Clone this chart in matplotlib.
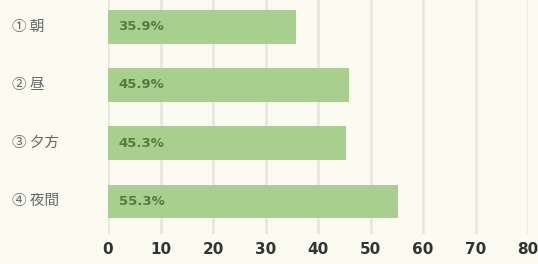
import matplotlib.pyplot as plt
from matplotlib.transforms import blended_transform_factory

cats = ['① 朝', '② 昼', '③ 夕方', '④ 夜間']
vals = [35.9, 45.9, 45.3, 55.3]
labels = ['35.9%', '45.9%', '45.3%', '55.3%']
xticks = [0, 10, 20, 30, 40, 50, 60, 70, 80]

plt.rcParams['font.family'] = ['Noto Sans CJK JP', 'DejaVu Sans']

bg = '#fbfbf2'
fig = plt.figure(figsize=(5.38, 2.64), dpi=100, facecolor=bg)
ax = fig.add_axes([108/538, 30/264, 420/538, 234/264], facecolor=bg)

ypos = list(range(len(cats)))
ax.barh(ypos, vals, height=0.58, color='#a9cf8f', zorder=2)
ax.set_xlim(0, 80)
ax.set_ylim(3.56, -0.46)
ax.set_xticks(xticks)
ax.set_xticklabels([str(t) for t in xticks], fontsize=11, fontweight='bold', color='#333333',
                   family='DejaVu Sans')
ax.tick_params(axis='x', length=0, pad=6)
ax.set_yticks([])
ax.grid(axis='x', color='#e6e6dc', linewidth=1.8, zorder=0)
for s in ax.spines.values():
    s.set_visible(False)
ax.axvline(0, color='#ffffff', linewidth=3, zorder=1)

for y, lab in zip(ypos, labels):
    ax.text(2.0, y, lab, va='center', ha='left', fontsize=9.5, fontweight='bold',
            color='#557a40', zorder=3, family='DejaVu Sans')

tr = blended_transform_factory(fig.transFigure, ax.transData)
for y, c in zip(ypos, cats):
    ax.text(12/538, y, c, va='center', ha='left', fontsize=10.5, color='#666666',
            transform=tr)

fig.savefig('out.png', dpi=100, facecolor=bg)
